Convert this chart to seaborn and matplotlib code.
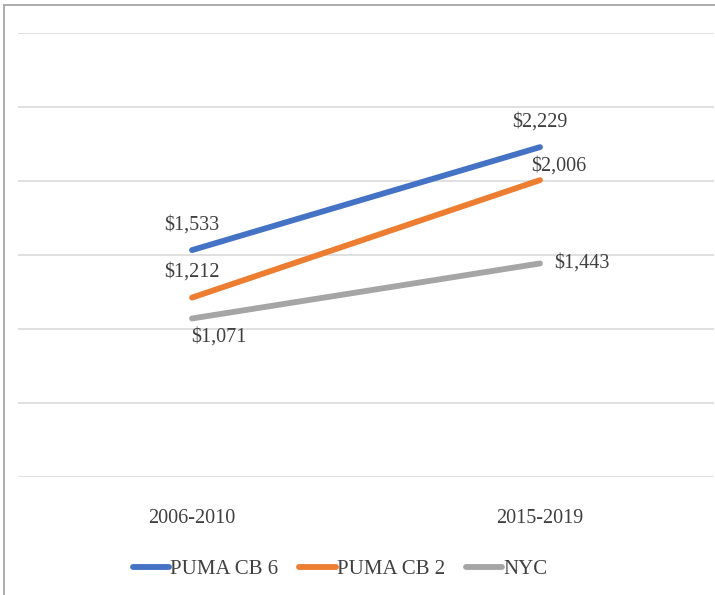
import matplotlib
matplotlib.use("Agg")
import matplotlib.pyplot as plt
from matplotlib.lines import Line2D
import pandas as pd
import seaborn as sns

# Данные с картинки
periods = ['2006-2010', '2015-2019']
series_names = ['PUMA CB 6', 'PUMA CB 2', 'NYC']
cb6_values = [1533, 2229]
cb2_values = [1212, 2006]
nyc_values = [1071, 1443]
colors = ['#4472C4', '#ED7D31', '#A5A5A5']

df = pd.DataFrame({
    'period': periods * 3,
    'rent': cb6_values + cb2_values + nyc_values,
    'series': [s for s in series_names for _ in periods],
})

sns.set_theme(style='white')
plt.rcParams['font.family'] = ['Liberation Serif', 'DejaVu Serif']

fig = plt.figure(figsize=(7.15, 5.95), dpi=100)
ax = fig.add_axes([18 / 715, 1 - 477 / 595, (714 - 18) / 715, (477 - 33) / 595])

sns.lineplot(data=df, x='period', y='rent', hue='series', palette=colors,
             hue_order=series_names, sort=False, linewidth=4.2,
             solid_capstyle='round', ax=ax, legend=False)

ax.set_xlim(-0.5, 1.5)
ax.set_ylim(0, 3000)
ax.set_yticks(range(0, 3001, 500))
ax.set_yticklabels([])
ax.yaxis.grid(True, color='#DDDDDD', linewidth=1.3)
ax.set_axisbelow(True)
for sp in ax.spines.values():
    sp.set_visible(False)
ax.tick_params(axis='x', length=0, pad=23, labelsize=14.5, labelcolor='#404040')
ax.tick_params(axis='y', length=0)
ax.set_xlabel('')
ax.set_ylabel('')

# подписи значений (смещения в пикселях)
label_offsets = {
    'PUMA CB 6': [(0, 25), (0, 25)],
    'PUMA CB 2': [(0, 26), (19, 14)],
    'NYC': [(27, -19), (42, 0)],
}
all_values = {'PUMA CB 6': cb6_values, 'PUMA CB 2': cb2_values, 'NYC': nyc_values}
for name in series_names:
    for i, v in enumerate(all_values[name]):
        dx, dy = label_offsets[name][i]
        ax.annotate(f'${v:,}', (i, v), xytext=(dx * 0.72, dy * 0.72),
                    textcoords='offset points', ha='center', va='center',
                    fontsize=14.5, color='#404040')

handles = [Line2D([], [], color=c, linewidth=4.2, solid_capstyle='round')
           for c in colors]
fig.legend(handles, series_names, loc='center', ncol=3, frameon=False,
           bbox_to_anchor=(340 / 715, 1 - 569 / 595), fontsize=15,
           handlelength=1.75, handletextpad=0.05, columnspacing=1.0,
           labelcolor='#404040')

# рамка области диаграммы (видны только верх и лево)
fig.add_artist(Line2D([4 / 715, 4 / 715], [0, 1 - 5 / 595], color='#A6A6A6',
                      linewidth=1.3, transform=fig.transFigure))
fig.add_artist(Line2D([4 / 715, 1], [1 - 5 / 595, 1 - 5 / 595], color='#A6A6A6',
                      linewidth=1.3, transform=fig.transFigure))

fig.savefig('out.png', dpi=100, facecolor='white')
